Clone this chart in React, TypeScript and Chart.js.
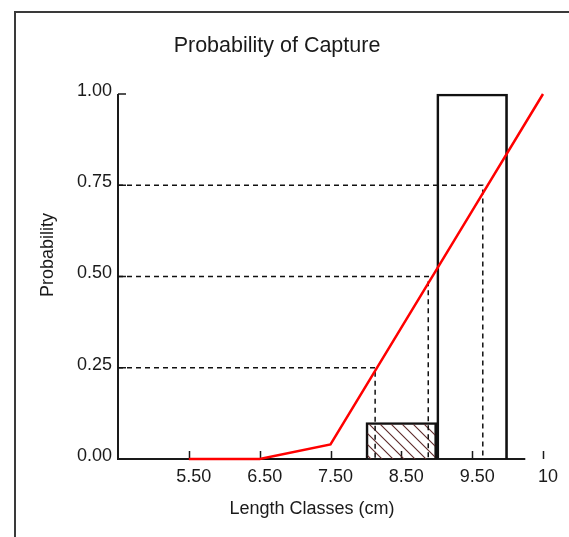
import React, { useEffect, useRef } from 'react';
import { Chart, registerables } from 'chart.js';

Chart.register(...registerables);

// ---- data ----
const classCenters = [6.5, 7.5, 8.5, 9.5];
const classFrequency = [0, 0, 0.1, 1.0];
const hatchedClass = 8.5;

const curveLengths = [5.5, 6.5, 7.5, 8.5, 9.5, 10.5];
const curveProbability = [0, 0, 0.04, 0.36, 0.68, 1.0];

const refProbabilities = [0.25, 0.5, 0.75];
const refLengths = [8.13, 8.88, 9.65];

const xTickValues = [5.5, 6.5, 7.5, 8.5, 9.5, 10.5];
const xTickLabels = ['5.50', '6.50', '7.50', '8.50', '9.50', '10'];
const yTickValues = [0, 0.25, 0.5, 0.75, 1];
const yTickLabels = ['0.00', '0.25', '0.50', '0.75', '1.00'];

const xMin = 4.5;
const xMax = 10.5;
const xAxisEnd = 10.25;

const chartTitle = 'Probability of Capture';
const xTitle = 'Length Classes (cm)';
const yTitle = 'Probability';

const FONT = "'Liberation Sans', Arial, sans-serif";
const TEXT = '#1a1a1a';

function makeHatch(): CanvasPattern | string {
  const c = document.createElement('canvas');
  const s = 11;
  c.width = s;
  c.height = s;
  const g = c.getContext('2d');
  if (!g) return 'transparent';
  g.strokeStyle = '#5e2a2a';
  g.lineWidth = 1.1;
  g.beginPath();
  g.moveTo(-1, -1);
  g.lineTo(s + 1, s + 1);
  g.moveTo(-2, s - 2);
  g.lineTo(2, s + 2);
  g.moveTo(s - 2, -2);
  g.lineTo(s + 2, 2);
  g.stroke();
  const p = g.createPattern(c, 'repeat');
  return p || 'transparent';
}

const axesPlugin = {
  id: 'customAxes',
  beforeDatasetsDraw(chart: any) {
    const { ctx, scales } = chart;
    const x = scales.x;
    const y = scales.y;
    const x0 = x.getPixelForValue(xMin);
    const y0 = y.getPixelForValue(0);
    const y1 = y.getPixelForValue(1);
    ctx.save();
    ctx.strokeStyle = TEXT;
    ctx.lineWidth = 2;
    ctx.beginPath();
    ctx.moveTo(x0, y1);
    ctx.lineTo(x0, y0);
    ctx.lineTo(x.getPixelForValue(xAxisEnd), y0);
    ctx.stroke();
    ctx.lineWidth = 1.5;
    ctx.beginPath();
    xTickValues.forEach((v) => {
      const px = Math.round(x.getPixelForValue(v)) + 0.5;
      ctx.moveTo(px, y0);
      ctx.lineTo(px, y0 - 8);
    });
    yTickValues.forEach((v) => {
      const py = y.getPixelForValue(v);
      ctx.moveTo(x0, py);
      ctx.lineTo(x0 + 8, py);
    });
    ctx.stroke();
    ctx.restore();
  },
  afterDraw(chart: any) {
    const { ctx } = chart;
    ctx.save();
    ctx.fillStyle = TEXT;
    ctx.font = `18px ${FONT}`;
    ctx.textAlign = 'center';
    ctx.textBaseline = 'middle';
    ctx.fillText(xTitle, 312, 509);
    ctx.translate(48, 255);
    ctx.rotate(-Math.PI / 2);
    ctx.fillText(yTitle, 0, 0);
    ctx.restore();
  },
};

export default function App() {
  const ref = useRef<HTMLCanvasElement | null>(null);

  useEffect(() => {
    if (!ref.current) return;
    const hatch = makeHatch();

    const zeroClasses = classCenters.filter((_, i) => classFrequency[i] === 0);
    const zeroLo = Math.min(...zeroClasses) - 0.5;
    const zeroHi = Math.max(...zeroClasses) + 0.5;

    const datasets: any[] = [
      {
        type: 'line',
        label: 'Probability',
        data: curveLengths.map((v, i) => ({ x: v, y: curveProbability[i] })),
        borderColor: '#ff0000',
        borderWidth: 2.5,
        pointRadius: 0,
        tension: 0,
        clip: false,
        order: 1,
      },
      ...refProbabilities.map((p, i) => ({
        type: 'line',
        label: `L${p * 100}`,
        data: [
          { x: xMin, y: p },
          { x: refLengths[i], y: p },
          { x: refLengths[i], y: 0 },
        ],
        borderColor: '#111111',
        borderWidth: 1.5,
        borderDash: [5, 4],
        pointRadius: 0,
        tension: 0,
        clip: false,
        order: 2,
      })),
      {
        type: 'line',
        label: 'empty classes',
        data: [
          { x: zeroLo, y: 0 },
          { x: zeroHi, y: 0 },
        ],
        borderColor: '#111111',
        borderWidth: 2,
        pointRadius: 0,
        clip: false,
        order: 3,
      },
      {
        type: 'bar',
        label: 'Catch',
        data: classCenters.map((v, i) => ({ x: v, y: classFrequency[i] })),
        backgroundColor: classCenters.map((v) => (v === hatchedClass ? hatch : 'rgba(255,255,255,0)')),
        borderColor: '#111111',
        borderWidth: 2,
        barPercentage: 1,
        categoryPercentage: 1,
        clip: false,
        order: 4,
      },
    ];

    const chart = new Chart(ref.current, {
      type: 'bar',
      data: { datasets },
      options: {
        responsive: false,
        animation: false,
        events: [],
        layout: { padding: { left: 11, right: 26, top: 0, bottom: 0 } },
        plugins: {
          legend: { display: false },
          tooltip: { enabled: false },
          title: {
            display: true,
            text: chartTitle,
            color: TEXT,
            font: { family: FONT, size: 21.5, weight: 'normal' },
            padding: { top: 33, bottom: 35.2 },
          },
        },
        scales: {
          x: {
            type: 'linear',
            min: xMin,
            max: xMax,
            offset: false,
            grid: { display: false, offset: false, drawTicks: false },
            border: { display: false },
            afterBuildTicks: (s: any) => {
              s.ticks = xTickValues.map((v) => ({ value: v }));
            },
            afterFit: (s: any) => {
              s.height = 78;
            },
            ticks: {
              autoSkip: false,
              maxRotation: 0,
              minRotation: 0,
              padding: 7,
              labelOffset: 5,
              color: TEXT,
              font: { family: FONT, size: 18 },
              callback: (_v: any, i: number) => xTickLabels[i],
            },
          },
          y: {
            type: 'linear',
            min: 0,
            max: 1,
            grid: { display: false, drawTicks: false },
            border: { display: false },
            afterBuildTicks: (s: any) => {
              s.ticks = yTickValues.map((v) => ({ value: v }));
            },
            afterFit: (s: any) => {
              s.width = 107;
            },
            ticks: {
              autoSkip: false,
              padding: 6,
              labelOffset: -3,
              color: TEXT,
              font: { family: FONT, size: 18 },
              callback: (_v: any, i: number) => yTickLabels[i],
            },
          },
        },
      } as any,
      plugins: [axesPlugin],
    });

    return () => chart.destroy();
  }, []);

  return (
    <div
      style={{
        position: 'fixed',
        left: 0,
        top: 0,
        width: 569,
        height: 537,
        overflow: 'hidden',
        background: '#ffffff',
      }}
    >
      <canvas
        ref={ref}
        width={569}
        height={537}
        style={{ position: 'absolute', left: 0, top: 0, display: 'block' }}
      />
      <div
        style={{
          position: 'absolute',
          left: 14,
          top: 11,
          right: 0,
          bottom: 0,
          borderLeft: '2px solid #3a3a3a',
          borderTop: '2px solid #3a3a3a',
          pointerEvents: 'none',
        }}
      />
    </div>
  );
}
